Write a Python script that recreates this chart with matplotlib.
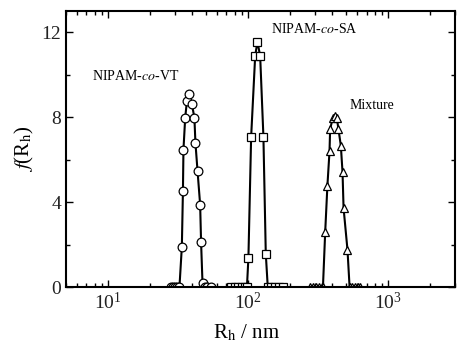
import matplotlib
matplotlib.use("Agg")
import matplotlib.pyplot as plt

plt.rcParams["font.family"] = ["Liberation Serif", "DejaVu Serif"]
plt.rcParams["mathtext.fontset"] = "stix"

# NIPAM-co-VT (circles)
vt_rh = [28, 29, 30, 31, 32.3, 33.6, 34.2, 34.5, 35.5, 36.5, 38.1, 39.6, 41.3,
         42.0, 43.5, 45.4, 46.1, 47.2, 49, 51, 54.4]
vt_f = [0, 0, 0, 0, 0, 1.9, 4.5, 6.47, 7.97, 8.75, 9.07, 8.63, 7.97,
        6.8, 5.45, 3.87, 2.1, 0.17, 0, 0, 0]

# NIPAM-co-SA (squares)
sa_rh = [76, 80, 85, 90, 95, 98, 100.4, 105, 112.2, 116.4, 121.8, 128.5, 133.6,
         138, 145, 155, 165, 178]
sa_f = [0, 0, 0, 0, 0, 0, 1.38, 7.07, 10.88, 11.56, 10.88, 7.07, 1.56,
        0, 0, 0, 0, 0]

# Mixture (triangles)
mix_rh = [278, 290, 305, 320, 335, 342, 355, 368, 381, 385, 402, 418, 430, 441,
          459, 472, 480, 512, 530, 555, 580, 605, 630]
mix_f = [0, 0, 0, 0, 0, 0, 2.61, 4.77, 6.39, 7.45, 7.95, 8.04, 7.95, 7.45,
         6.66, 5.4, 3.72, 1.75, 0, 0, 0, 0, 0]

fig = plt.figure(figsize=(4.57, 3.57), dpi=100)
ax = fig.add_axes([66 / 457, 1 - 287 / 357, 389 / 457, 276 / 357])

style = dict(color="black", linewidth=1.5, markersize=6.3,
             markerfacecolor="white", markeredgecolor="black",
             markeredgewidth=0.9)
ax.plot(vt_rh, vt_f, marker="o", **style)
ax.plot(sa_rh, sa_f, marker="s", **style)
ax.plot(mix_rh, mix_f, marker="^", **style)

ax.set_xscale("log")
ax.set_xlim(5, 3000)
ax.set_ylim(0, 13)
ax.set_yticks([0, 4, 8, 12])
ax.set_yticks([2, 6, 10], minor=True)

ax.tick_params(which="both", direction="in", top=True, right=True,
               labelsize=14, width=1.0, labelcolor="#222222")
ax.tick_params(which="major", length=5)
ax.tick_params(which="minor", length=3)
for spine in ax.spines.values():
    spine.set_linewidth(1.5)

ax.set_xlabel(r"R$_\mathrm{h}$ / nm", fontsize=15)
ax.xaxis.set_label_coords(0.465, -0.13)
ax.set_ylabel(r"$f$(R$_\mathrm{h}$)", fontsize=15)

ax.text(15.8, 9.95, r"NIPAM-$co$-VT", fontsize=10, ha="center", va="center")
ax.text(296, 12.17, r"NIPAM-$co$-SA", fontsize=10, ha="center", va="center")
ax.text(769, 8.55, "Mixture", fontsize=10, ha="center", va="center")

fig.savefig("out.png", dpi=100)
